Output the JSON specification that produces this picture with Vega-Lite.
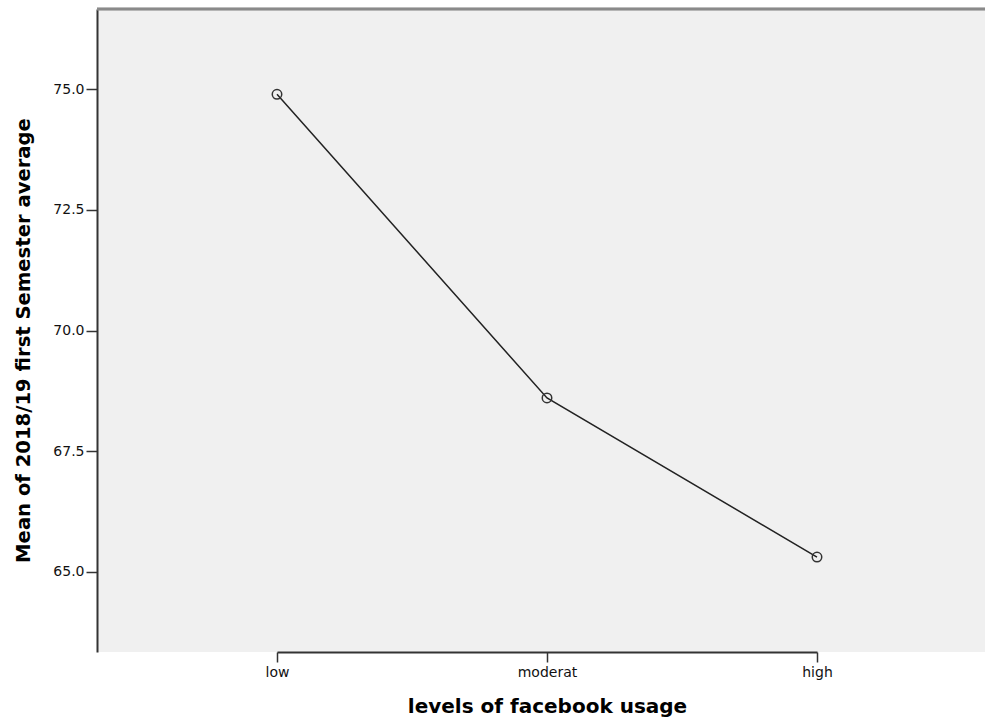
{
  "$schema": "https://vega.github.io/schema/vega-lite/v6.json",
  "autosize": {"type": "none"},
  "padding": {"left": 97, "top": 9, "right": 0, "bottom": 69},
  "width": 888,
  "height": 643,
  "background": "white",
  "config": {
    "view": {"fill": "#f0f0f0", "stroke": null},
    "font": "DejaVu Sans"
  },
  "data": {
    "values": [
      {"level": "low", "mean": 74.9},
      {"level": "moderat", "mean": 68.6},
      {"level": "high", "mean": 65.3}
    ]
  },
  "encoding": {
    "x": {
      "field": "level", "type": "ordinal", "sort": ["low", "moderat", "high"],
      "scale": {"type": "point", "range": [180, 720], "padding": 0},
      "axis": {
        "title": "levels of facebook usage", "titleFont": "DejaVu Sans", "titleFontSize": 20, "titleFontWeight": "bold",
        "titleColor": "#000", "titlePadding": 17, "titleX": 450,
        "labelAngle": 0, "labelFont": "DejaVu Sans", "labelFontSize": 14, "labelColor": "#111", "labelPadding": 3,
        "domainColor": "#333", "domainWidth": 2, "tickColor": "#333", "tickSize": 10, "tickWidth": 1.5,
        "grid": false
      }
    },
    "y": {
      "field": "mean", "type": "quantitative",
      "scale": {"domain": [63.33, 76.67], "nice": false, "zero": false},
      "axis": {
        "title": "Mean of 2018/19 first Semester average", "titleFont": "DejaVu Sans", "titleFontSize": 19.6, "titleFontWeight": "bold",
        "titleColor": "#000", "titlePadding": 19, "titleY": 331,
        "values": [65, 67.5, 70, 72.5, 75], "format": ".1f",
        "labelFont": "DejaVu Sans", "labelFontSize": 14, "labelColor": "#111", "labelPadding": 2,
        "domainColor": "#333", "domainWidth": 2, "tickColor": "#333", "tickSize": 11, "tickWidth": 1.5,
        "grid": false
      }
    }
  },
  "layer": [
    {
      "mark": {"type": "rule", "color": "#8a8a8a", "strokeWidth": 2.5},
      "encoding": {"y": {"datum": 76.67}, "x": {"value": 0}, "x2": {"value": 888}}
    },
    {"mark": {"type": "line", "color": "#222", "strokeWidth": 1.5}},
    {"mark": {"type": "point", "filled": false, "color": "#333", "size": 90, "strokeWidth": 1.5, "opacity": 1}}
  ]
}
